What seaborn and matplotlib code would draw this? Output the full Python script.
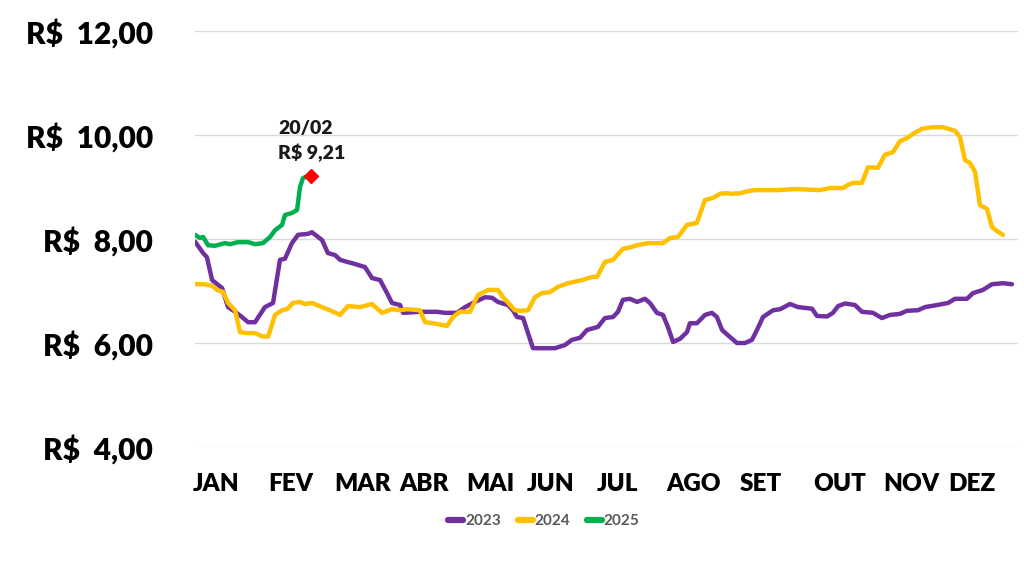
import matplotlib
matplotlib.use("Agg")
import matplotlib.pyplot as plt
import seaborn as sns
import pandas as pd

# ---------------- data ----------------
dias_2023 = [0, 3.6, 5.3, 7.6, 10.2, 12, 14.7, 17.8, 20.9, 23.6, 26.7, 31.1, 34.7, 37.8, 40, 43.1,
             45.8, 50.3, 52, 56.5, 59.1, 62.3, 64.5, 67.6, 70.3, 72.5, 75.6, 78.7, 82.3, 85.4, 87.6,
             91.2, 92.5, 100, 107.6, 111.2, 116.5, 120.1, 124.5, 129, 132.1, 134.7, 139.2, 141.4,
             143.2, 145.9, 150.3, 160.1, 164.5, 167.6, 171.2, 174.3, 179.2, 182.3, 185.9, 188.1,
             190.3, 193.4, 196.6, 200.1, 202.3, 205.4, 208.1, 210.3, 212.6, 215.7, 218.8, 220.1,
             223.2, 226.8, 229.9, 232.1, 234.4, 237, 241, 244.6, 247.7, 249.9, 252.6, 257.1, 260.2,
             264.6, 268.2, 274.4, 276.6, 281.1, 283.7, 286, 289.1, 293.5, 296.6, 301.5, 305.5,
             309.1, 313.5, 316.6, 321.5, 324.6, 330, 334.9, 338, 343.3, 346, 350.4, 354.4, 359.3,
             363.3]
precos_2023 = [7.95, 7.73, 7.65, 7.21, 7.12, 7.06, 6.69, 6.60, 6.50, 6.40, 6.40, 6.69, 6.77, 7.60,
               7.62, 7.92, 8.08, 8.10, 8.13, 7.98, 7.73, 7.69, 7.60, 7.56, 7.53, 7.50, 7.46, 7.25,
               7.21, 6.96, 6.77, 6.73, 6.58, 6.60, 6.60, 6.58, 6.58, 6.69, 6.79, 6.88, 6.87, 6.79,
               6.73, 6.63, 6.50, 6.48, 5.90, 5.90, 5.96, 6.06, 6.10, 6.25, 6.31, 6.48, 6.50, 6.60,
               6.83, 6.85, 6.79, 6.85, 6.77, 6.58, 6.54, 6.31, 6.02, 6.08, 6.21, 6.38, 6.38, 6.54,
               6.58, 6.50, 6.25, 6.15, 6.00, 6.00, 6.06, 6.25, 6.50, 6.63, 6.65, 6.75, 6.69, 6.66,
               6.52, 6.51, 6.58, 6.71, 6.76, 6.73, 6.60, 6.58, 6.48, 6.54, 6.56, 6.62, 6.63, 6.69,
               6.73, 6.77, 6.85, 6.85, 6.96, 7.02, 7.13, 7.15, 7.13]

dias_2024 = [0, 4.4, 7.6, 9.8, 12.5, 14.7, 17.8, 20, 23.1, 26.7, 29.8, 32.5, 35.6, 38.7, 40.9, 43.6,
             46.7, 48.9, 52, 56.5, 60, 64.5, 68, 73.4, 78.7, 83.2, 87.6, 91.2, 94.3, 100, 102.3,
             105.8, 112.1, 114.7, 117.8, 122.3, 125.8, 130.3, 134.7, 137, 142.3, 145.4, 148.1,
             151.2, 154.3, 157.9, 161.4, 165.9, 172.1, 176.6, 178.8, 182.3, 185.9, 190.3, 194.3,
             196.6, 201.5, 208.1, 211.3, 214.8, 218.8, 223.2, 226.8, 230.4, 233.5, 236.6, 238.8,
             242.4, 245.9, 249, 259.3, 266.8, 277.9, 282.4, 288.2, 290.4, 292.6, 296.6, 299.3,
             303.7, 306.8, 310.4, 313.5, 316.6, 319.3, 323.3, 327.8, 332.6, 334.9, 338, 340.2,
             342.4, 344.7, 346.9, 349.1, 352.2, 354.4, 356.7, 359.3]
precos_2024 = [7.13, 7.13, 7.10, 7.02, 6.98, 6.77, 6.63, 6.21, 6.19, 6.19, 6.13, 6.12, 6.54, 6.63,
               6.65, 6.77, 6.79, 6.75, 6.77, 6.69, 6.63, 6.54, 6.71, 6.69, 6.75, 6.58, 6.65, 6.63,
               6.65, 6.63, 6.40, 6.38, 6.33, 6.50, 6.60, 6.60, 6.92, 7.02, 7.02, 6.88, 6.63, 6.62,
               6.63, 6.88, 6.96, 6.98, 7.08, 7.15, 7.21, 7.27, 7.27, 7.56, 7.60, 7.81, 7.85, 7.88,
               7.92, 7.92, 8.02, 8.04, 8.27, 8.31, 8.75, 8.79, 8.87, 8.88, 8.87, 8.88, 8.92, 8.94,
               8.94, 8.96, 8.94, 8.98, 8.98, 9.04, 9.08, 9.08, 9.38, 9.37, 9.62, 9.67, 9.88, 9.94,
               10.02, 10.12, 10.15, 10.15, 10.12, 10.08, 9.96, 9.52, 9.46, 9.29, 8.65, 8.58, 8.23,
               8.15, 8.08]

dias_2025 = [0, 2.2, 3.6, 5.8, 8.9, 13.3, 15.6, 19.1, 23.6, 26.7, 30.2, 33.4, 35.6, 38.7, 40, 43.1,
             45.4, 46.7, 48, 50]
precos_2025 = [8.08, 8.02, 8.04, 7.88, 7.87, 7.92, 7.90, 7.94, 7.94, 7.90, 7.92, 8.04, 8.17, 8.27,
               8.46, 8.50, 8.56, 9.00, 9.17, 9.21]

anos = ["2023", "2024", "2025"]
cores = ["#7030A0", "#FFC000", "#00B050"]

destaque_dia = 51.5
destaque_preco = 9.21
destaque_texto = "20/02\nR$ 9,21"

meses = ["JAN", "FEV", "MAR", "ABR", "MAI", "JUN", "JUL", "AGO", "SET", "OUT", "NOV", "DEZ"]
meses_pos = [9.3, 42.7, 74.3, 101.8, 131.2, 158.3, 187.7, 221.9, 251.7, 286.8, 318.4, 345.6]

y_ticks = [4, 6, 8, 10, 12]

# ---------------- build table ----------------
frames = []
for ano, d, p in zip(anos, [dias_2023, dias_2024, dias_2025], [precos_2023, precos_2024, precos_2025]):
    frames.append(pd.DataFrame({"dia": d, "preco": p, "ano": ano}))
df = pd.concat(frames, ignore_index=True)

# ---------------- plot ----------------
sns.set_theme(style="white")
plt.rcParams["font.family"] = ["Lato", "DejaVu Sans"]

fig = plt.figure(figsize=(10.24, 5.64), dpi=100)
ax = fig.add_axes([195 / 1024, 1 - 447 / 564, (1018 - 195) / 1024, (447 - 31) / 564])

sns.lineplot(data=df, x="dia", y="preco", hue="ano", palette=dict(zip(anos, cores)),
             estimator=None, sort=False, linewidth=3.2, ax=ax, legend=True)

ax.plot([destaque_dia], [destaque_preco], marker="D", color="#FF0000", markersize=7,
        linestyle="none", zorder=5)
ax.text(36.9, 9.885, destaque_texto, ha="left", va="center", fontsize=14,
        fontweight="heavy", color="#1a1a1a", linespacing=1.4)

ax.set_xlim(0, 366)
ax.set_ylim(4, 12)
ax.set_yticks(y_ticks)
ax.set_yticklabels([f"R$  {v:.2f}".replace(".", ",") for v in y_ticks],
                   fontsize=21.5, fontweight="heavy", color="#000000")
ax.set_xticks(meses_pos)
ax.set_xticklabels(meses, fontsize=17.5, fontweight="heavy", color="#000000")
ax.tick_params(axis="y", length=0, pad=30)
ax.tick_params(axis="x", length=0, pad=19)
ax.grid(axis="y", color="#D9D9D9", linewidth=1.0)
ax.grid(axis="x", visible=False)
for s in ax.spines.values():
    s.set_visible(False)
ax.set_xlabel("")
ax.set_ylabel("")

handles, labels = ax.get_legend_handles_labels()
ax.get_legend().remove()
leg = fig.legend(handles, labels, loc="center", bbox_to_anchor=(0.531, 0.076), ncol=3,
                 frameon=False, handlelength=1.0, handletextpad=0.1, columnspacing=1.1,
                 prop={"size": 11, "weight": "bold"})
for t in leg.get_texts():
    t.set_color("#595959")
for h in leg.get_lines():
    h.set_linewidth(4.5)
    h.set_solid_capstyle("round")

fig.savefig("out.png", dpi=100)
